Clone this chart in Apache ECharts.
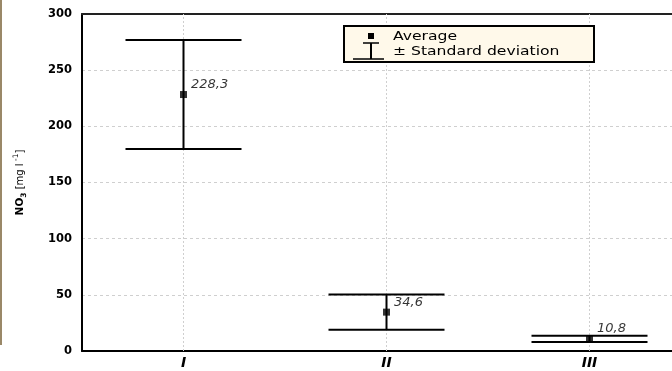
<!DOCTYPE html>
<html>
<head>
<meta charset="utf-8">
<script src="https://cdn.jsdelivr.net/npm/echarts@6/dist/echarts.min.js"></script>
<style>html,body{margin:0;padding:0;background:#fff;overflow:hidden}#c{width:691px;height:371px}</style>
</head>
<body>
<div id="c"></div>
<script>
var categories = ['I', 'II', 'III'];
var means = [228.3, 34.6, 10.8];
var lowerSD = [179.8, 19.0, 8.1];
var upperSD = [276.8, 50.2, 13.5];
var yTicks = [0, 50, 100, 150, 200, 250, 300];

var chart = echarts.init(document.getElementById('c'), null, {renderer: 'canvas'});
var FONT = '"DejaVu Sans", "Liberation Sans", Arial, sans-serif';

var errData = categories.map(function (c, i) { return [i, lowerSD[i], upperSD[i]]; });

var option = {
  animation: false,
  backgroundColor: '#fff',
  grid: {left: 82, top: 14, bottom: 20, right: 0},
  xAxis: [{
    type: 'category', data: categories,
    axisLine: {lineStyle: {color: '#000', width: 2}},
    axisTick: {show: false},
    axisLabel: {color: '#000', fontFamily: FONT, fontWeight: 'bold', fontStyle: 'italic', fontSize: 14, margin: 5},
    splitLine: {show: false}
  }, {
    type: 'category', data: categories, position: 'top',
    axisLine: {lineStyle: {color: '#222', width: 2}},
    axisTick: {show: false}, axisLabel: {show: false}, splitLine: {show: false}
  }],
  yAxis: {
    type: 'value', min: yTicks[0], max: yTicks[yTicks.length - 1], interval: 50,
    axisLine: {show: true, lineStyle: {color: '#000', width: 2}},
    axisTick: {show: false},
    axisLabel: {color: '#000', fontFamily: FONT, fontWeight: 'bold', fontSize: 11.5, margin: 10},
    splitLine: {lineStyle: {color: '#cfcfcf', type: [3, 3], width: 1}},
    name: '{b|NO}{sub|3}{n| [mg l}{sup| -1}{n|]}',
    nameLocation: 'middle', nameGap: 54, nameRotate: 90,
    nameTextStyle: {
      rich: {
        b: {fontFamily: FONT, fontWeight: 'bold', fontSize: 10.5, color: '#000', lineHeight: 16},
        sub: {fontFamily: FONT, fontWeight: 'bold', fontSize: 7.5, color: '#000', lineHeight: 8, verticalAlign: 'bottom'},
        n: {fontFamily: FONT, fontSize: 10, color: '#000', lineHeight: 16},
        sup: {fontFamily: FONT, fontSize: 7.5, color: '#000', lineHeight: 8, verticalAlign: 'top'}
      }
    }
  },
  series: [
    {
      type: 'custom',
      data: errData,
      z: 3,
      renderItem: function (params, api) {
        var x = api.value(0);
        var lo = api.coord([x, api.value(1)]);
        var hi = api.coord([x, api.value(2)]);
        var hw = 58;
        var st = {stroke: '#000', lineWidth: 2};
        return {
          type: 'group',
          children: [
            {type: 'line', shape: {x1: lo[0], y1: lo[1], x2: hi[0], y2: hi[1]}, style: st},
            {type: 'line', shape: {x1: lo[0] - hw, y1: lo[1], x2: lo[0] + hw, y2: lo[1]}, style: st},
            {type: 'line', shape: {x1: hi[0] - hw, y1: hi[1], x2: hi[0] + hw, y2: hi[1]}, style: st}
          ]
        };
      },
      markLine: {
        silent: true, symbol: 'none', z: 1,
        label: {show: false},
        lineStyle: {color: '#cfcfcf', type: [2, 2], width: 1},
        data: categories.map(function (c) { return {xAxis: c}; })
      }
    },
    {
      type: 'scatter',
      data: means,
      symbol: 'rect', symbolSize: 7, z: 4,
      itemStyle: {color: '#000'},
      label: {
        show: true, position: 'right', distance: 4, offset: [0, -10],
        fontFamily: FONT, fontStyle: 'italic', fontSize: 13, color: '#000',
        formatter: function (p) { return p.value.toFixed(1).replace('.', ','); }
      }
    }
  ],
  graphic: [
    {type: 'rect', left: 0, top: 0, shape: {width: 2, height: 345}, style: {fill: '#9a8868'}},
    {type: 'rect', shape: {x: 344, y: 26, width: 250, height: 36}, style: {fill: '#fff9ea', stroke: '#000', lineWidth: 2}, z: 10},
    {type: 'rect', shape: {x: 368, y: 33, width: 6, height: 6}, style: {fill: '#000'}, z: 11},
    {type: 'text', x: 393, y: 37, scaleX: 1.2, style: {text: 'Average', font: '13px "DejaVu Sans", Arial, sans-serif', fill: '#000', textVerticalAlign: 'middle'}, z: 11},
    {type: 'line', shape: {x1: 371, y1: 43, x2: 371, y2: 59}, style: {stroke: '#000', lineWidth: 2}, z: 11},
    {type: 'line', shape: {x1: 363, y1: 43, x2: 379, y2: 43}, style: {stroke: '#000', lineWidth: 1.5}, z: 11},
    {type: 'line', shape: {x1: 353, y1: 59, x2: 384, y2: 59}, style: {stroke: '#000', lineWidth: 1.5}, z: 11},
    {type: 'text', x: 393, y: 52, scaleX: 1.2, style: {text: '\u00b1 Standard deviation', font: '13px "DejaVu Sans", Arial, sans-serif', fill: '#000', textVerticalAlign: 'middle'}, z: 11}
  ]
};
chart.setOption(option);
</script>
</body>
</html>
